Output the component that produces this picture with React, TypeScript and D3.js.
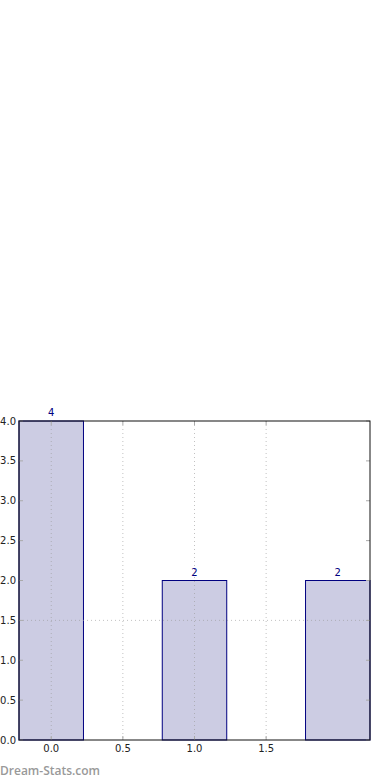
import React from "react";
import * as d3 from "d3";

const categories = [0, 1, 2];
const values = [4, 2, 2];
const xTicks = [0, 0.5, 1, 1.5];
const yTicks = [0, 0.5, 1, 1.5, 2, 2.5, 3, 3.5, 4];
const hGrid = [1.5];

export default function App() {
  const W = 390, H = 780;
  const left = 19, right = 370, top = 421, bottom = 740;
  const barW = 0.45;
  const x = d3.scaleLinear().domain([-0.225, 2.225]).range([left, right]);
  const y = d3.scaleLinear().domain([0, 4]).range([bottom, top]);
  const font = "DejaVu Sans, sans-serif";
  return (
    <svg width={W} height={H} style={{ position: "absolute", left: 0, top: 0, background: "#fff" }}>
      {categories.map((c, i) => (
        <rect key={i} x={x(c - barW / 2)} y={y(values[i])} width={x(c + barW / 2) - x(c - barW / 2)}
          height={y(0) - y(values[i])} fill="#ccccE3" stroke="#000080" strokeWidth={1} />
      ))}
      {xTicks.map((t, i) => (
        <line key={"gx" + i} x1={x(t)} x2={x(t)} y1={top} y2={bottom} stroke="#999" strokeOpacity={0.6}
          strokeWidth={1} strokeDasharray="1,3" />
      ))}
      {hGrid.map((t, i) => (
        <line key={"gy" + i} x1={left} x2={right} y1={y(t)} y2={y(t)} stroke="#999" strokeOpacity={0.6}
          strokeWidth={1} strokeDasharray="1,3" />
      ))}
      {yTicks.map((t, i) => (
        <g key={"yt" + i}>
          <line x1={left} x2={left + 4} y1={y(t)} y2={y(t)} stroke="#aaa" />
          <line x1={right - 4} x2={right} y1={y(t)} y2={y(t)} stroke="#aaa" />
          <text x={left - 3} y={y(t)} dy="0.35em" textAnchor="end" fontSize={10} fontFamily={font} fill="#222">
            {d3.format(".1f")(t)}
          </text>
        </g>
      ))}
      {xTicks.map((t, i) => (
        <g key={"xt" + i}>
          <line x1={x(t)} x2={x(t)} y1={bottom} y2={bottom - 4} stroke="#aaa" />
          <line x1={x(t)} x2={x(t)} y1={top} y2={top + 4} stroke="#aaa" />
          <text x={x(t)} y={bottom + 12} textAnchor="middle" fontSize={10} fontFamily={font} fill="#222">
            {d3.format(".1f")(t)}
          </text>
        </g>
      ))}
      <rect x={left} y={top} width={right - left} height={bottom - top} fill="none" stroke="#111" strokeWidth={1} />
      {categories.map((c, i) => (
        <text key={"v" + i} x={x(c)} y={y(values[i]) - 5} textAnchor="middle" fontSize={10}
          fontFamily={font} fill="#000080">{values[i]}</text>
      ))}
      <text x={0} y={775} fontSize={12} fontFamily="Open Sans, sans-serif" fontWeight={600} fill="#999">Dream-Stats.com</text>
    </svg>
  );
}
